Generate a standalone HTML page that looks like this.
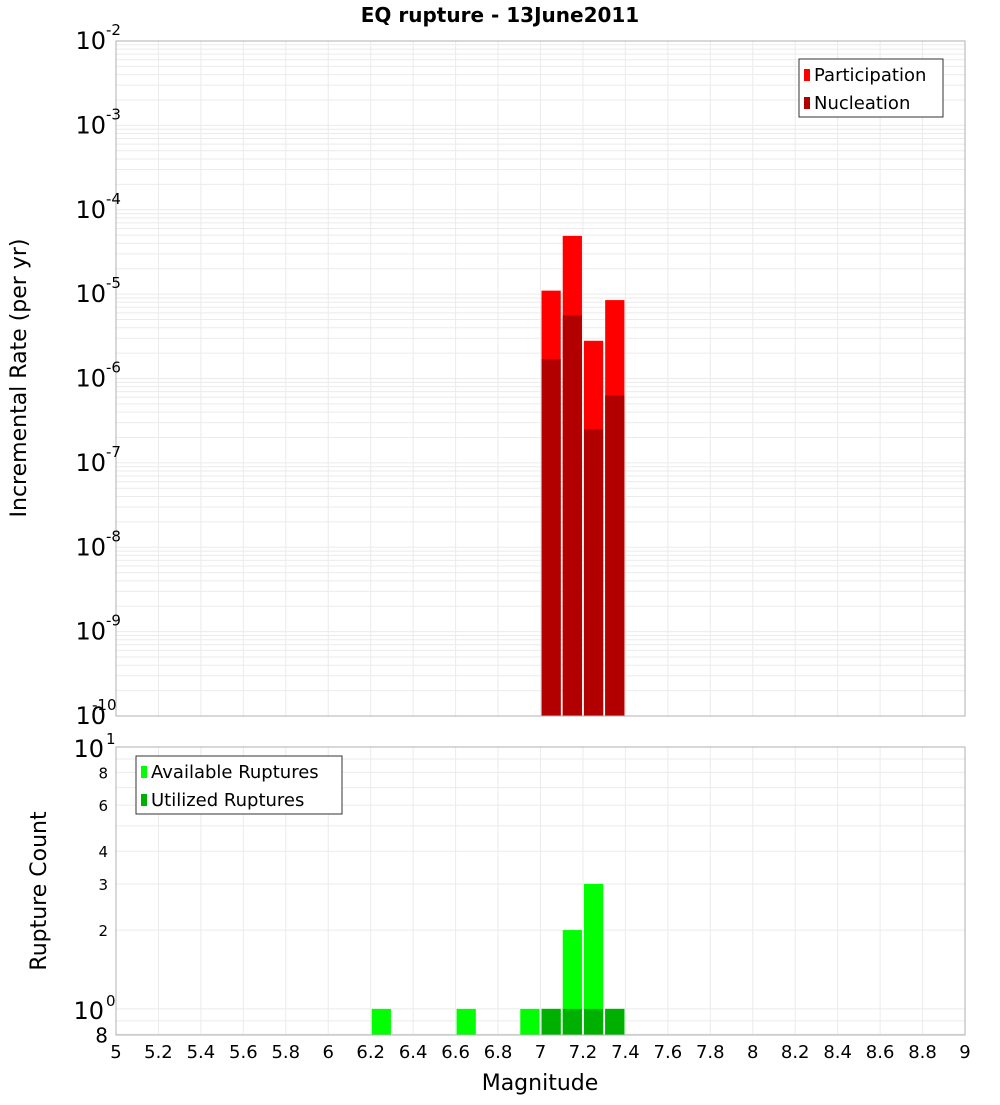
<!DOCTYPE html>
<html><head><meta charset="utf-8">
<style>
html,body{margin:0;padding:0;background:#fff;}
svg text{font-family:"DejaVu Sans","Liberation Sans",sans-serif;}
</style></head>
<body>
<svg id="chart" width="1000" height="1100" xmlns="http://www.w3.org/2000/svg">
<text x="500" y="22" text-anchor="middle" font-size="20" font-weight="bold">EQ rupture - 13June2011</text>
<text transform="translate(26,378) rotate(-90)" text-anchor="middle" font-size="22">Incremental Rate (per yr)</text>
<text transform="translate(46,891) rotate(-90)" text-anchor="middle" font-size="22">Rupture Count</text>
<text x="540" y="1090" text-anchor="middle" font-size="22">Magnitude</text>
</svg>
<script>
const mags = [7.05, 7.15, 7.25, 7.35];
const participation = [1.1e-5, 4.9e-5, 2.8e-6, 8.5e-6];
const nucleation = [1.7e-6, 5.6e-6, 2.5e-7, 6.3e-7];
const availMags = [6.25, 6.65, 6.95, 7.05, 7.15, 7.25, 7.35];
const availCounts = [1, 1, 1, 1, 2, 3, 1];
const usedMags = [7.05, 7.15, 7.25, 7.35];
const usedCounts = [1, 1, 1, 1];
const xTicks = [5,5.2,5.4,5.6,5.8,6,6.2,6.4,6.6,6.8,7,7.2,7.4,7.6,7.8,8,8.2,8.4,8.6,8.8,9];
const topExps = [-10,-9,-8,-7,-6,-5,-4,-3,-2];
const botTicks = [0.8,2,3,4,6,8];

const svg = document.getElementById('chart');
const NS = 'http://www.w3.org/2000/svg';
function mk(tag, attrs, parent){const e=document.createElementNS(NS,tag);for(const k in attrs)e.setAttribute(k,attrs[k]);(parent||svg).appendChild(e);return e;}

const X0=116, X1=965;
const x = m => X0 + (m-5)/(9-5)*(X1-X0);
const T0=41, T1=716;
const yTop = v => T1 - (Math.log10(v)+10)/8*(T1-T0);
const B0=747, B1=1035, BMIN=Math.log10(0.795), BMAX=1;
const yBot = v => B1 - (Math.log10(v)-BMIN)/(BMAX-BMIN)*(B1-B0);

// top panel grid
const gTop = mk('g',{});


for(let e=-10;e<-2;e++){for(let k=1;k<10;k++){const yy=yTop(k*Math.pow(10,e));const l=mk('line',{x1:X0,x2:X1,y1:yy,y2:yy,stroke:'#ebebeb','stroke-width':1},gTop);}}
xTicks.forEach(t=>{mk('line',{x1:x(t),x2:x(t),y1:T0,y2:T1,stroke:'#ebebeb','stroke-width':1},gTop);});
// bottom grid
const gBot = mk('g',{});


[0.8,0.9,1,2,3,4,5,6,7,8,9].forEach(v=>{const yy=yBot(v);mk('line',{x1:X0,x2:X1,y1:yy,y2:yy,stroke:'#ebebeb'},gBot);});
xTicks.forEach(t=>{mk('line',{x1:x(t),x2:x(t),y1:B0,y2:B1,stroke:'#ebebeb'},gBot);});

// top bars
mags.forEach((m,i)=>{
  const xl=x(m-0.05)+1, w=x(m+0.05)-x(m-0.05)-2;
  const p=mk('rect',{x:xl,y:yTop(participation[i]),width:w,height:T1-yTop(participation[i]),fill:'#ff0000'});
  
  
  const n=mk('rect',{x:xl,y:yTop(nucleation[i]),width:w,height:T1-yTop(nucleation[i]),fill:'#b20000'});
  
  
});
// bottom bars
availMags.forEach((m,i)=>{
  const xl=x(m-0.05)+1, w=x(m+0.05)-x(m-0.05)-2;
  const r=mk('rect',{x:xl,y:yBot(availCounts[i]),width:w,height:B1-yBot(availCounts[i]),fill:'#00ff00'});
  
  
});
usedMags.forEach((m,i)=>{
  const xl=x(m-0.05)+1, w=x(m+0.05)-x(m-0.05)-2;
  const r=mk('rect',{x:xl,y:yBot(usedCounts[i]),width:w,height:B1-yBot(usedCounts[i]),fill:'#00b000'});
  
  
});

// frames
const f1=mk('rect',{x:X0,y:T0,width:X1-X0,height:T1-T0,fill:'none',stroke:'#b0b0b0'});


const f2=mk('rect',{x:X0,y:B0,width:X1-X0,height:B1-B0,fill:'none',stroke:'#b0b0b0'});



// top y tick labels
topExps.forEach(e=>{
  const yy=yTop(Math.pow(10,e));
  const t=mk('text',{x:106,y:yy+8,'text-anchor':'end','font-size':24});
  
  
  t.textContent='10';
  const s=mk('text',{x:106,y:yy-6,'text-anchor':'start','font-size':15});
  
  
  s.textContent=String(e);
  if(e===-10){s.setAttribute('x',92);}
});
// bottom y tick labels
[[10,'1'],[1,'0']].forEach(([v,ex])=>{
  const yy=yBot(v);
  const t=mk('text',{x:104,y:yy+10,'text-anchor':'end','font-size':24});
  
  
  t.textContent='10';
  const s=mk('text',{x:106,y:yy-3,'font-size':15});
  
  
  s.textContent=ex;
});
botTicks.forEach(v=>{
  const yy=yBot(v);
  const big=v===0.8;
  const t=mk('text',{x:108,y:yy+(big?8:6),'text-anchor':'end','font-size':big?20:15});
  
  
  t.textContent=String(v===0.8?8:v);
});
// x tick labels
xTicks.forEach(t=>{
  const e=mk('text',{x:x(t),y:1058,'text-anchor':'middle','font-size':18});
  
  
  e.textContent=String(t);
});

// legends
function legend(x0,y0,w,items,name){
  const g=mk('g',{});
  
  
  mk('rect',{x:x0,y:y0,width:w,height:58,fill:'#fff',stroke:'#333'},g);
  items.forEach((it,i)=>{
    const r=mk('rect',{x:x0+5,y:y0+10+i*28,width:6,height:12,fill:it[1]},g);
    
    
    const t=mk('text',{x:x0+15,y:y0+22+i*28,'font-size':18},g);
    
    
    t.textContent=it[0];
  });
}
legend(799,59,144,[['Participation','#ff0000'],['Nucleation','#b20000']],'top-legend');
legend(136,756,206,[['Available Ruptures','#00ff00'],['Utilized Ruptures','#00b000']],'bottom-legend');
</script>
</body></html>
